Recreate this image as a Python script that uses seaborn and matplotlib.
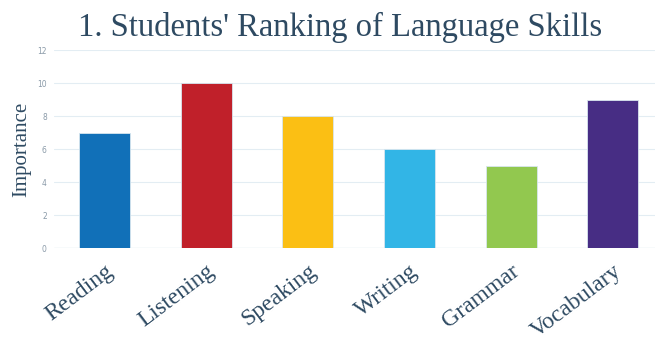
import matplotlib
matplotlib.use("Agg")
import matplotlib.pyplot as plt
import seaborn as sns
import pandas as pd

skills = ["Reading", "Listening", "Speaking", "Writing", "Grammar", "Vocabulary"]
importance = [7, 10, 8, 6, 5, 9]
colors = ["#1170b8", "#c0202a", "#fbbf14", "#32b5e6", "#92c84f", "#472d84"]
yticks = [0, 2, 4, 6, 8, 10, 12]

sns.set_theme(style="white")
plt.rcParams["font.family"] = ["Liberation Serif", "DejaVu Serif"]

df = pd.DataFrame({"skill": skills, "importance": importance})

fig = plt.figure(figsize=(6.55, 3.38), dpi=100)
ax = fig.add_axes([0.082, 0.266, 0.918, 0.586])
sns.barplot(data=df, x="skill", y="importance", hue="skill", palette=colors,
            width=0.5, legend=False, ax=ax, edgecolor="#d8e6ef", linewidth=0.6,
            saturation=1, zorder=3)

ax.set_ylim(0, 12)
ax.set_xlim(-0.5, 5.415)
ax.set_yticks(yticks)
ax.set_yticklabels([str(t) for t in yticks], fontsize=5.5, color="#8a9aa8",
                   family="DejaVu Sans")
ax.tick_params(axis="y", length=0, pad=5)
ax.tick_params(axis="x", length=0, pad=9)
ax.yaxis.grid(True, color="#e3edf3", linewidth=0.8, zorder=0)
for s in ax.spines.values():
    s.set_visible(False)
ax.axhline(0, color="#e3edf3", linewidth=1.0, zorder=1)

ax.set_xticks(range(len(skills)))
ax.set_xticklabels(skills, rotation=37, ha="right", rotation_mode="anchor",
                   fontsize=17, color="#2e4a62")
ax.set_xlabel("")
ax.set_ylabel("Importance", fontsize=15, color="#2e4a62", labelpad=4)

fig.suptitle("1. Students' Ranking of Language Skills", fontsize=23.5,
             color="#2e4a62", x=0.519, y=0.965, va="top")

fig.savefig("out.png", dpi=100)
